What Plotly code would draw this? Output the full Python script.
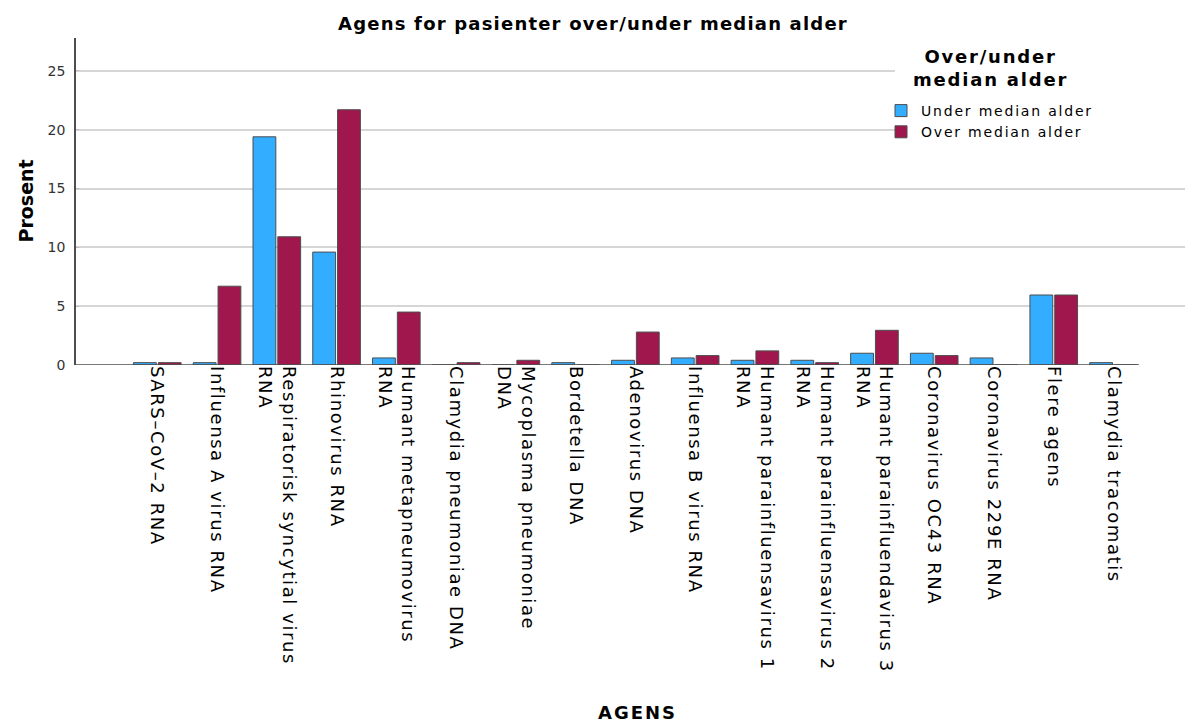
import plotly.graph_objects as go

categories = [
    "SARS–CoV–2 RNA",
    "Influensa A virus RNA",
    "Respiratorisk syncytial virus<br>RNA",
    "Rhinovirus RNA",
    "Humant metapneumovirus<br>RNA",
    "Clamydia pneumoniae DNA",
    "Mycoplasma pneumoniae<br>DNA",
    "Bordetella DNA",
    "Adenovirus DNA",
    "Influensa B virus RNA",
    "Humant parainfluensavirus 1<br>RNA",
    "Humant parainfluensavirus 2<br>RNA",
    "Humant parainfluendavirus 3<br>RNA",
    "Coronavirus OC43 RNA",
    "Coronavirus 229E RNA",
    "Flere agens",
    "Clamydia tracomatis",
]
under_median = [0.2, 0.2, 19.4, 9.6, 0.6, 0.0, 0.0, 0.2, 0.4, 0.6, 0.4, 0.4, 1.0, 1.0, 0.6, 5.95, 0.2]
over_median = [0.2, 6.7, 10.9, 21.7, 4.5, 0.2, 0.4, 0.0, 2.8, 0.8, 1.2, 0.2, 2.95, 0.8, 0.0, 5.95, 0.0]
series_names = ["Under median alder", "Over median alder"]
legend_title = "Over/under<br>median alder"
y_ticks = [0, 5, 10, 15, 20, 25]

FONT = "DejaVu Sans"


def spaced(text, px):
    parts = text.split("<br>")
    return "<br>".join(f"<span style='letter-spacing:{px}px'>{p}</span>" for p in parts)


# page is offset by 8px body margin; figure coords = page coords - 8
W, H = 1185, 718
L, R, T, B = 68, 0, 30, 361
PW = W - L - R
PH = H - T - B


def px_x(page_x):
    return (page_x - 76) / PW


def px_y(page_y):
    return (365 - page_y) / PH


fig = go.Figure()
fig.add_trace(go.Bar(
    x=categories, y=under_median, name=spaced(series_names[0], 1.8),
    marker=dict(color="#33adff", line=dict(color="#4d4d4d", width=1)),
))
fig.add_trace(go.Bar(
    x=categories, y=over_median, name=spaced(series_names[1], 1.8),
    marker=dict(color="#a0174d", line=dict(color="#4d4d4d", width=1)),
))

fig.update_layout(
    width=W, height=H,
    margin=dict(l=L, r=R, t=T, b=B),
    paper_bgcolor="white", plot_bgcolor="white",
    barmode="group", bargap=0.17, bargroupgap=0.08,
    font=dict(family=FONT, color="black"),
    title=dict(text="<b>" + spaced("Agens for pasienter over/under median alder", 1.2) + "</b>",
               font=dict(family=FONT, size=18, color="black"),
               x=585 / W, xanchor="center", y=1 - 16 / H, yanchor="middle"),
    showlegend=True,
    legend=dict(
        font=dict(family=FONT, size=14, color="black"),
        bgcolor="rgba(0,0,0,0)",
        x=px_x(881), xanchor="left",
        y=px_y(95), yanchor="top",
        tracegroupgap=0,
    ),
    shapes=[
        dict(type="line", xref="paper", yref="y", x0=0, x1=px_x(1139),
             y0=0, y1=0, line=dict(color="#4d4d4d", width=1.5), layer="above"),
        dict(type="rect", xref="paper", yref="paper", x0=px_x(895), x1=px_x(1187),
             y0=px_y(150), y1=px_y(40), fillcolor="white", line=dict(width=0), layer="above"),
    ],
    annotations=[
        dict(text="<b>" + spaced(legend_title, 1.8) + "</b>", xref="paper", yref="paper",
             x=px_x(990), y=px_y(68), xanchor="center", yanchor="middle", align="center",
             showarrow=False, font=dict(family=FONT, size=18, color="black")),
        dict(text="<b>" + spaced("AGENS", 2) + "</b>", xref="paper", yref="paper",
             x=px_x(637), y=px_y(712), xanchor="center", yanchor="middle",
             showarrow=False, font=dict(family=FONT, size=18, color="black")),
        dict(text="<b>Prosent</b>", xref="paper", yref="paper", textangle=-90,
             x=px_x(25), y=0.5, xanchor="center", yanchor="middle",
             showarrow=False, font=dict(family=FONT, size=19, color="black")),
    ],
)

fig.update_xaxes(
    type="category",
    range=[-1.36, 17.33],
    tickangle=90,
    tickvals=categories,
    ticktext=[spaced(c, 1.6) for c in categories],
    tickfont=dict(family=FONT, size=18, color="black"),
    showgrid=False, showline=False, zeroline=False, ticks="",
    automargin=False,
)
fig.update_yaxes(
    range=[0, 27.8],
    tickvals=y_ticks,
    tickfont=dict(family=FONT, size=14, color="#333333"),
    showgrid=True, gridcolor="#d6d6d6", gridwidth=2,
    showline=True, linecolor="#4d4d4d", linewidth=1.5,
    zeroline=False, ticks="inside", ticklen=3, tickcolor="#bbbbbb",
    ticklabelstandoff=6,
    automargin=False,
)

fig.write_html("out.html")
